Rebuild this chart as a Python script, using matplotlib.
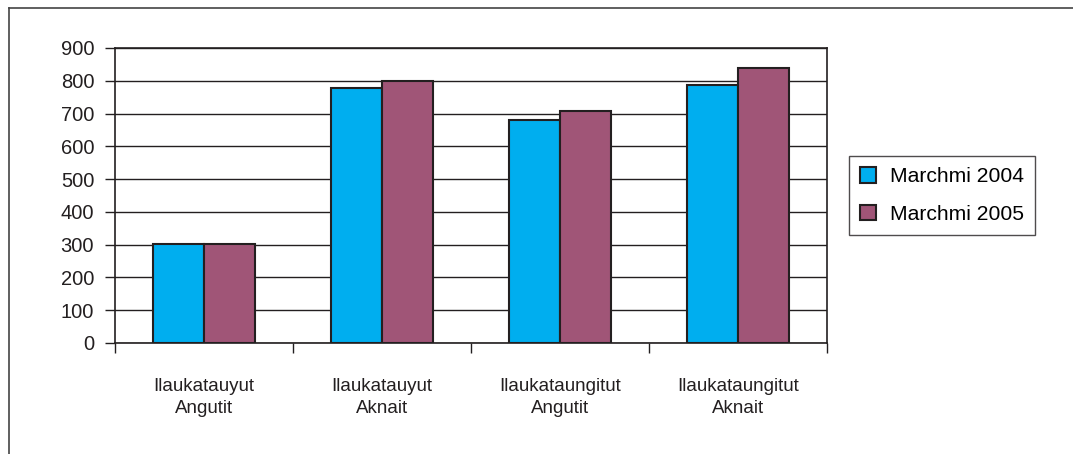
import matplotlib
matplotlib.use("Agg")
import matplotlib.pyplot as plt
import numpy as np
from matplotlib.lines import Line2D
from matplotlib.patches import Patch

categories = ["Ilaukatauyut\nAngutit", "Ilaukatauyut\nAknait",
              "Ilaukataungitut\nAngutit", "Ilaukataungitut\nAknait"]
series_names = ["Marchmi 2004", "Marchmi 2005"]
values_2004 = [303, 778, 681, 788]
values_2005 = [303, 800, 708, 838]
y_ticks = [0, 100, 200, 300, 400, 500, 600, 700, 800, 900]

colors = ["#00AEEF", "#A05577"]
edge = "#231F20"

plt.rcParams['font.family'] = ['Liberation Sans', 'DejaVu Sans']

fig = plt.figure(figsize=(10.73, 4.54), dpi=100)
W, H = 1073, 454
ax = fig.add_axes([115 / W, 1 - 343 / H, (827 - 115) / W, (343 - 48) / H])

x = np.arange(len(categories))
bw = 1 / 3.5
for i, (vals, c, name) in enumerate(zip([values_2004, values_2005], colors, series_names)):
    ax.bar(x + (i - 0.5) * bw, vals, width=bw, color=c, edgecolor=edge,
           linewidth=1.5, zorder=3, label=name)

ax.set_xlim(-0.5, len(categories) - 0.5)
ax.set_ylim(0, 900)
ax.set_yticks(y_ticks)
ax.set_yticklabels([str(v) for v in y_ticks], fontsize=14.5, color="#231F20")
ax.yaxis.grid(True, color="#231F20", linewidth=1.0, zorder=0)
ax.set_axisbelow(True)

ax.set_xticks(np.arange(len(categories) + 1) - 0.5)
ax.set_xticklabels([])
ax.tick_params(axis='x', direction='out', length=7, width=1, color="#231F20")
ax.tick_params(axis='y', direction='out', length=7, width=1, color="#231F20", pad=8)
for i, lab in enumerate(categories):
    ax.text(i, -0.119, lab, transform=ax.get_xaxis_transform(), ha='center', va='top',
            fontsize=13.5, color="#231F20", linespacing=1.35)

for s in ax.spines.values():
    s.set_color("#231F20")
    s.set_linewidth(1.2)

handles = [Patch(facecolor=c, edgecolor=edge, linewidth=1.5) for c in colors]
leg = fig.legend(handles, series_names, loc='upper left',
                 bbox_to_anchor=(849 / W, 1 - 156 / H), fontsize=15.2,
                 borderaxespad=0.0,
                 frameon=True, fancybox=False, edgecolor="#231F20",
                 handlelength=0.76, handleheight=0.76, handletextpad=0.66,
                 labelspacing=0.88, borderpad=0.52)
leg.get_frame().set_linewidth(1.0)

fig.add_artist(Line2D([9 / W, 1.0], [1 - 8 / H, 1 - 8 / H], color="#444444", linewidth=1.2,
                      transform=fig.transFigure))
fig.add_artist(Line2D([9 / W, 9 / W], [1 - 8 / H, 0.0], color="#444444", linewidth=1.2,
                      transform=fig.transFigure))

fig.savefig("out.png", dpi=100)
